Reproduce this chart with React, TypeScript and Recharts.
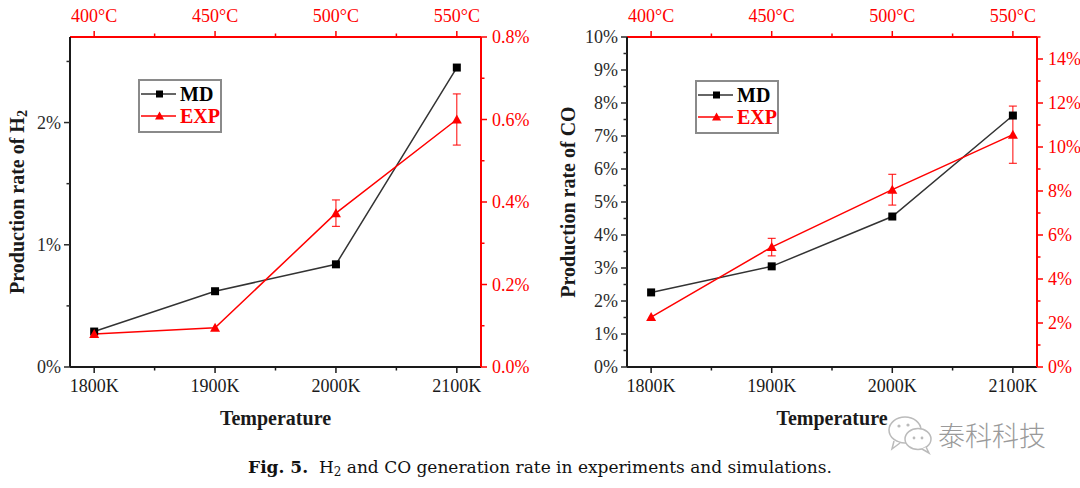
import React from "react";
import {
  LineChart,
  Line,
  XAxis,
  YAxis,
  ErrorBar,
  Legend,
} from "recharts";

// temperatures (K) with the matching furnace temperature on the top axis
const temps = [1800, 1900, 2000, 2100];
const xTicks = [1800, 1850, 1900, 1950, 2000, 2050, 2100];
const xLabels = ["1800K", "", "1900K", "", "2000K", "", "2100K"];
const topLabels = ["400°C", "", "450°C", "", "500°C", "", "550°C"];

// H2 production rate (%)
const h2Md = [0.29, 0.62, 0.84, 2.45];
const h2Exp = [0.08, 0.095, 0.373, 0.6];
const h2ExpErr = [null, null, 0.032, 0.062];
const h2MdTicks = [0, 0.5, 1, 1.5, 2, 2.5];
const h2MdLabels = ["0%", "", "1%", "", "2%", ""];
const h2ExpTicks = [0, 0.1, 0.2, 0.3, 0.4, 0.5, 0.6, 0.7, 0.8];
const h2ExpLabels = ["0.0%", "", "0.2%", "", "0.4%", "", "0.6%", "", "0.8%"];

// CO production rate (%)
const coMd = [2.26, 3.05, 4.56, 7.62];
const coExp = [2.27, 5.45, 8.06, 10.56];
const coExpErr = [null, 0.4, 0.7, 1.3];
const coMdTicks = [0, 0.5, 1, 1.5, 2, 2.5, 3, 3.5, 4, 4.5, 5, 5.5, 6, 6.5, 7, 7.5, 8, 8.5, 9, 9.5, 10];
const coMdLabels = ["0%", "", "1%", "", "2%", "", "3%", "", "4%", "", "5%", "", "6%", "", "7%", "", "8%", "", "9%", "", "10%"];
const coExpTicks = [0, 1, 2, 3, 4, 5, 6, 7, 8, 9, 10, 11, 12, 13, 14, 15];
const coExpLabels = ["0%", "", "2%", "", "4%", "", "6%", "", "8%", "", "10%", "", "12%", "", "14%", ""];

const seriesOrder = ["md", "exp"];

const RED = "#ff0000";
const DARK = "#1a1a1a";
const SERIF = "'Liberation Serif', 'Times New Roman', serif";

const h2Rows = temps.map((t, i) => ({ t, md: h2Md[i], exp: h2Exp[i], expErr: h2ExpErr[i] }));
const coRows = temps.map((t, i) => ({ t, md: coMd[i], exp: coExp[i], expErr: coExpErr[i] }));

const labelFor = (ticks: number[], labels: string[], v: number) => {
  const i = ticks.findIndex((t) => Math.abs(t - v) < 1e-9);
  return i >= 0 ? labels[i] : "";
};

// draws tick mark (long when labelled, short otherwise) plus label
const makeTick =
  (side: "top" | "bottom" | "left" | "right", ticks: number[], labels: string[], color: string) =>
  (props: any) => {
    const { x, y, payload } = props;
    const text = labelFor(ticks, labels, payload.value);
    const len = text ? 6 : 3.5;
    let line;
    let label = null;
    if (side === "bottom") {
      line = <line x1={x} y1={y} x2={x} y2={y + len} stroke={color} strokeWidth={1.5} />;
      if (text) label = <text x={x} y={y + 25} textAnchor="middle" fill={color} fontSize={18} fontFamily={SERIF}>{text}</text>;
    } else if (side === "top") {
      line = <line x1={x} y1={y} x2={x} y2={y - len} stroke={color} strokeWidth={1.5} />;
      if (text) label = <text x={x} y={y - 15} textAnchor="middle" fill={color} fontSize={18} fontFamily={SERIF}>{text}</text>;
    } else if (side === "left") {
      line = <line x1={x} y1={y} x2={x - len} y2={y} stroke={color} strokeWidth={1.5} />;
      if (text) label = <text x={x - 9} y={y + 6} textAnchor="end" fill={color} fontSize={18} fontFamily={SERIF}>{text}</text>;
    } else {
      line = <line x1={x} y1={y} x2={x + len} y2={y} stroke={color} strokeWidth={1.5} />;
      if (text) label = <text x={x + 11} y={y + 6} textAnchor="start" fill={color} fontSize={18} fontFamily={SERIF}>{text}</text>;
    }
    return (
      <g>
        {line}
        {label}
      </g>
    );
  };

const SquareDot = (props: any) => {
  const { cx, cy, index } = props;
  if (cx == null || cy == null) return <g key={index} />;
  return <rect key={index} x={cx - 4} y={cy - 4} width={8} height={8} fill="#000" />;
};

const TriangleDot = (props: any) => {
  const { cx, cy, index } = props;
  if (cx == null || cy == null) return <g key={index} />;
  return <polygon key={index} points={`${cx},${cy - 5} ${cx - 5},${cy + 4} ${cx + 5},${cy + 4}`} fill={RED} />;
};

const yTitle = (main: string, sub: string | null, cx: number) => (props: any) => {
  const vb = props.viewBox || { y: 37, height: 330 };
  const cy = vb.y + vb.height / 2;
  return (
    <text
      x={cx}
      y={cy}
      transform={`rotate(-90 ${cx} ${cy})`}
      textAnchor="middle"
      dominantBaseline="central"
      fontFamily={SERIF}
      fontWeight="bold"
      fontSize={20}
      fill={DARK}
    >
      {main}
      {sub && (
        <tspan fontSize={14} dy={5}>
          {sub}
        </tspan>
      )}
    </text>
  );
};

const xTitle = (props: any) => {
  const vb = props.viewBox || { x: 70, y: 367, width: 411 };
  return (
    <text
      x={vb.x + vb.width / 2}
      y={vb.y + 58}
      textAnchor="middle"
      fontFamily={SERIF}
      fontWeight="bold"
      fontSize={20}
      fill={DARK}
    >
      Temperature
    </text>
  );
};

const LegendBox = (props: any) => {
  const items = (props.payload || [])
    .slice()
    .sort((a: any, b: any) => seriesOrder.indexOf(a.dataKey) - seriesOrder.indexOf(b.dataKey));
  return (
    <div
      style={{
        border: "2px solid #8a8a8a",
        width: 80,
        height: 48,
        boxSizing: "content-box",
        paddingTop: 2,
      }}
    >
      {items.map((it: any) => {
        const isMd = it.dataKey === "md";
        const c = isMd ? "#000" : RED;
        return (
          <div key={it.value} style={{ display: "flex", alignItems: "center", height: 22 }}>
            <svg width={38} height={22} style={{ display: "block" }}>
              <line x1={1} y1={11} x2={36} y2={11} stroke={isMd ? "#333" : RED} strokeWidth={1.5} />
              {isMd ? (
                <rect x={16} y={7.5} width={7} height={7} fill="#000" />
              ) : (
                <polygon points="19.5,6.5 15,14.5 24,14.5" fill={RED} />
              )}
            </svg>
            <span
              style={{
                fontFamily: SERIF,
                fontWeight: "bold",
                fontSize: 20,
                color: c,
                marginLeft: 2,
                lineHeight: "22px",
              }}
            >
              {it.value}
            </span>
          </div>
        );
      })}
    </div>
  );
};

type PanelProps = {
  rows: any[];
  mdTicks: number[];
  mdLabels: string[];
  expTicks: number[];
  expLabels: string[];
  mdMax: number;
  expMax: number;
  leftWidth: number;
  rightWidth: number;
  marginRight: number;
  titleMain: string;
  titleSub: string | null;
  titleX: number;
  legendLeft: number;
  legendTop: number;
};

const Panel: React.FC<PanelProps> = (p) => (
  <LineChart
    width={540}
    height={440}
    data={p.rows}
    margin={{ top: 7, right: p.marginRight, left: 10, bottom: 11 }}
    style={{ overflow: "visible" }}
  >
    <XAxis
      xAxisId="b"
      dataKey="t"
      type="number"
      domain={[1780, 2120]}
      ticks={xTicks}
      interval={0}
      height={62}
      tickSize={0}
      tickMargin={0}
      tickLine={false}
      axisLine={{ stroke: DARK, strokeWidth: 2 }}
      tick={makeTick("bottom", xTicks, xLabels, DARK)}
      label={{ content: xTitle }}
    />
    <XAxis
      xAxisId="t"
      orientation="top"
      dataKey="t"
      type="number"
      domain={[1780, 2120]}
      ticks={xTicks}
      interval={0}
      height={30}
      tickSize={0}
      tickMargin={0}
      tickLine={false}
      axisLine={{ stroke: RED, strokeWidth: 2 }}
      tick={makeTick("top", xTicks, topLabels, RED)}
    />
    <YAxis
      yAxisId="md"
      domain={[0, p.mdMax]}
      ticks={p.mdTicks}
      interval={0}
      width={p.leftWidth}
      tickSize={0}
      tickMargin={0}
      tickLine={false}
      allowDataOverflow
      axisLine={{ stroke: DARK, strokeWidth: 2 }}
      tick={makeTick("left", p.mdTicks, p.mdLabels, "#2a2a2a")}
      label={{ content: yTitle(p.titleMain, p.titleSub, p.titleX) }}
    />
    <YAxis
      yAxisId="exp"
      orientation="right"
      domain={[0, p.expMax]}
      ticks={p.expTicks}
      interval={0}
      width={p.rightWidth}
      tickSize={0}
      tickMargin={0}
      tickLine={false}
      allowDataOverflow
      axisLine={{ stroke: RED, strokeWidth: 2 }}
      tick={makeTick("right", p.expTicks, p.expLabels, RED)}
    />
    <Legend
      layout="vertical"
      align="center"
      verticalAlign="middle"
      content={<LegendBox />}
      wrapperStyle={{ left: p.legendLeft, top: p.legendTop, width: "auto" }}
    />
    <Line
      xAxisId="b"
      yAxisId="md"
      dataKey="md"
      name="MD"
      stroke="#333"
      strokeWidth={1.5}
      dot={SquareDot}
      activeDot={false}
      isAnimationActive={false}
    />
    <Line
      xAxisId="b"
      yAxisId="exp"
      dataKey="exp"
      name="EXP"
      stroke={RED}
      strokeWidth={1.5}
      dot={TriangleDot}
      activeDot={false}
      isAnimationActive={false}
    >
      <ErrorBar dataKey="expErr" width={4} stroke={RED} strokeWidth={1} direction="y" isAnimationActive={false} />
    </Line>
  </LineChart>
);

const App: React.FC = () => (
  <div
    style={{
      position: "absolute",
      left: 0,
      top: 0,
      width: 1080,
      height: 488,
      background: "#fff",
      overflow: "hidden",
    }}
  >
    <div style={{ position: "absolute", left: 0, top: 0 }}>
      <Panel
        rows={h2Rows}
        mdTicks={h2MdTicks}
        mdLabels={h2MdLabels}
        expTicks={h2ExpTicks}
        expLabels={h2ExpLabels}
        mdMax={2.7}
        expMax={0.8}
        leftWidth={60}
        rightWidth={55}
        marginRight={4}
        titleMain="Production rate of H"
        titleSub="2"
        titleX={17}
        legendLeft={138}
        legendTop={79}
      />
    </div>
    <div style={{ position: "absolute", left: 540, top: 0 }}>
      <Panel
        rows={coRows}
        mdTicks={coMdTicks}
        mdLabels={coMdLabels}
        expTicks={coExpTicks}
        expLabels={coExpLabels}
        mdMax={10}
        expMax={15}
        leftWidth={77}
        rightWidth={43}
        marginRight={0}
        titleMain="Production rate of CO"
        titleSub={null}
        titleX={28}
        legendLeft={155}
        legendTop={80}
      />
    </div>

    {/* watermark */}
    <div style={{ position: "absolute", left: 886, top: 413, display: "flex", alignItems: "center" }}>
      <svg width={50} height={42}>
        <ellipse cx={19} cy={17} rx={16} ry={13} fill="#fff" stroke="#bbb" strokeWidth={1.5} />
        <path d="M8 28 L6 36 L14 30" fill="#fff" stroke="#bbb" strokeWidth={1.5} />
        <ellipse cx={32} cy={26} rx={13} ry={10.5} fill="#fff" stroke="#bbb" strokeWidth={1.5} />
        <path d="M40 34 L43 40 L36 36" fill="#fff" stroke="#bbb" strokeWidth={1.5} />
        <circle cx={13} cy={13} r={1.6} fill="#bbb" />
        <circle cx={22} cy={12} r={1.6} fill="#bbb" />
        <circle cx={28} cy={25} r={1.4} fill="#bbb" />
        <circle cx={36} cy={25} r={1.4} fill="#bbb" />
      </svg>
      <span
        style={{
          fontFamily: "'Noto Sans CJK SC', sans-serif",
          fontWeight: 300,
          fontSize: 27,
          color: "#9a9a9a",
          marginLeft: 2,
          letterSpacing: 0,
        }}
      >
        泰科科技
      </span>
    </div>

    {/* caption */}
    <div
      style={{
        position: "absolute",
        left: 0,
        width: 1080,
        top: 457,
        textAlign: "center",
        fontFamily: "'DejaVu Serif', serif",
        fontSize: 17,
        color: "#111",
        whiteSpace: "nowrap",
      }}
    >
      <b>Fig. 5.</b>&nbsp; H<sub style={{ fontSize: 12, verticalAlign: "-3px" }}>2</sub> and CO generation rate in
      experiments and simulations.
    </div>
  </div>
);

export default App;
